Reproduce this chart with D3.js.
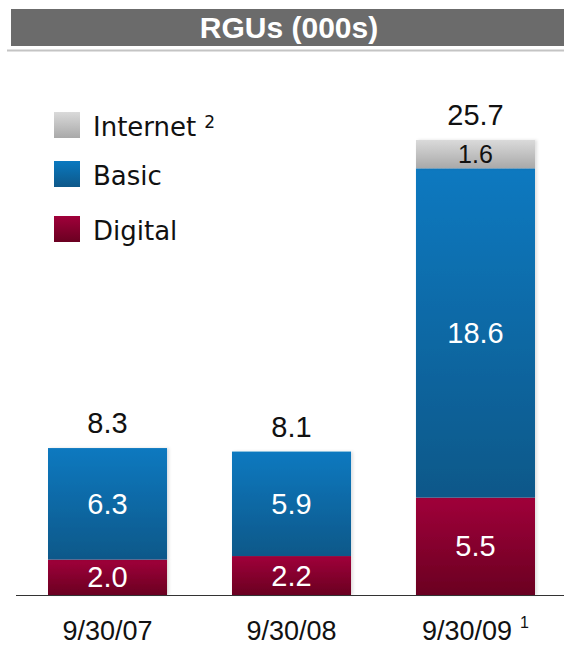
<!DOCTYPE html>
<html>
<head>
<meta charset="utf-8">
<script src="https://cdn.jsdelivr.net/npm/d3@7"></script>
<style>
  html, body { margin: 0; padding: 0; background: #fff; }
  svg { display: block; }
</style>
</head>
<body>
<svg id="chart" width="564" height="648"></svg>
<script>
// RGU counts in thousands, stacked bottom to top: Digital, Basic, Internet
const categories = ["9/30/07", "9/30/08", "9/30/09"];
const categoryNotes = ["", "", "1"];
const digital = [2.0, 2.2, 5.5];
const basic = [6.3, 5.9, 18.6];
const internet = [0, 0, 1.6];
const totals = [8.3, 8.1, 25.7];
const seriesNames = ["Digital", "Basic", "Internet"];
const legendItems = [
  { key: "Internet", label: "Internet", note: "2" },
  { key: "Basic", label: "Basic", note: "" },
  { key: "Digital", label: "Digital", note: "" }
];

const svg = d3.select("#chart");
const W = 564, H = 648;

// gradients for each series
const defs = svg.append("defs");
const grads = {
  Internet: ["#dadada", "#a9a9a9"],
  Basic: ["#0a79c0", "#0e5889"],
  Digital: ["#a0003a", "#6a0021"]
};
Object.entries(grads).forEach(([k, c]) => {
  const g = defs.append("linearGradient")
    .attr("id", "g-" + k).attr("x1", 0).attr("y1", 0).attr("x2", 0).attr("y2", 1);
  g.append("stop").attr("offset", "0%").attr("stop-color", c[0]);
  g.append("stop").attr("offset", "100%").attr("stop-color", c[1]);
});
const shadow = defs.append("filter").attr("id", "shadow")
  .attr("x", "-10%").attr("y", "-10%").attr("width", "120%").attr("height", "120%");
shadow.append("feDropShadow").attr("dx", 2).attr("dy", 0).attr("stdDeviation", 1.5)
  .attr("flood-color", "#000").attr("flood-opacity", 0.12);

// title band
svg.append("rect").attr("x", 11).attr("y", 9).attr("width", W - 11).attr("height", 37)
  .attr("fill", "#6b6b6b");
svg.append("line").attr("x1", 7).attr("x2", W).attr("y1", 50.5).attr("y2", 50.5)
  .attr("stroke", "#c4c4c4").attr("stroke-width", 2);
svg.append("text").attr("x", 289).attr("y", 38)
  .attr("text-anchor", "middle")
  .attr("font-family", "Liberation Sans, Arial, sans-serif")
  .attr("font-weight", "bold").attr("font-size", 30)
  .attr("fill", "#fff").text("RGUs (000s)");

// scales
const xb = d3.scaleBand().domain(categories).range([48, 535]).paddingInner(0.353).paddingOuter(0);
const y = d3.scaleLinear().domain([0, 25.7]).range([595, 140]);

const table = categories.map((c, i) => ({ cat: c, Digital: digital[i], Basic: basic[i], Internet: internet[i] }));
const stack = d3.stack().keys(seriesNames)(table);

const font = "Liberation Sans, Arial, sans-serif";

const layers = svg.append("g").selectAll("g").data(stack).join("g");
layers.selectAll("rect")
  .data(d => d.map(v => ({ key: d.key, v })))
  .join("rect")
  .filter(d => d.v[1] - d.v[0] > 0)
  .attr("x", d => xb(d.v.data.cat))
  .attr("width", xb.bandwidth())
  .attr("y", d => y(d.v[1]))
  .attr("height", d => y(d.v[0]) - y(d.v[1]))
  .attr("fill", d => `url(#g-${d.key})`)
  .attr("filter", "url(#shadow)");

// segment value labels
layers.selectAll("text")
  .data(d => d.map(v => ({ key: d.key, v })).filter(o => o.v[1] - o.v[0] > 0))
  .join("text")
  .attr("x", d => xb(d.v.data.cat) + xb.bandwidth() / 2)
  .attr("y", d => (y(d.v[0]) + y(d.v[1])) / 2 + (d.key === "Internet" ? 9 : 10))
  .attr("text-anchor", "middle")
  .attr("font-family", font)
  .attr("font-size", d => d.key === "Internet" ? 25 : 29)
  .attr("fill", d => d.key === "Internet" ? "#111" : "#fff")
  .text(d => (d.v[1] - d.v[0]).toFixed(1));

// totals above bars
svg.append("g").selectAll("text").data(categories).join("text")
  .attr("x", c => xb(c) + xb.bandwidth() / 2)
  .attr("y", (c, i) => y(totals[i]) - 15)
  .attr("text-anchor", "middle")
  .attr("font-family", font).attr("font-size", 29).attr("fill", "#111")
  .text((c, i) => totals[i].toFixed(1));

// baseline
svg.append("line").attr("x1", 16).attr("x2", W).attr("y1", y(0) + 0.5).attr("y2", y(0) + 0.5)
  .attr("stroke", "#333").attr("stroke-width", 1.2);

// category labels
const catG = svg.append("g").selectAll("text").data(categories).join("text")
  .attr("x", c => xb(c) + xb.bandwidth() / 2)
  .attr("y", 640)
  .attr("text-anchor", "middle")
  .attr("font-family", font).attr("font-size", 27).attr("fill", "#111");
catG.append("tspan").text(c => c);
catG.filter((c, i) => categoryNotes[i]).append("tspan")
  .attr("font-size", 16).attr("dx", 8).attr("dy", -12)
  .text((c, i) => categoryNotes[categories.indexOf(c)]);

// legend
const leg = svg.append("g").selectAll("g").data(legendItems).join("g")
  .attr("transform", (d, i) => `translate(54, ${[112, 161, 216][i]})`);
leg.append("rect").attr("width", 26).attr("height", 26)
  .attr("fill", d => `url(#g-${d.key})`);
const lt = leg.append("text").attr("x", 39).attr("y", 24)
  .attr("font-family", "DejaVu Sans, Verdana, sans-serif")
  .attr("font-size", 26).attr("fill", "#111");
lt.append("tspan").text(d => d.label);
lt.filter(d => d.note).append("tspan")
  .attr("font-size", 17).attr("dx", 8).attr("dy", -8)
  .text(d => d.note);
</script>
</body>
</html>
